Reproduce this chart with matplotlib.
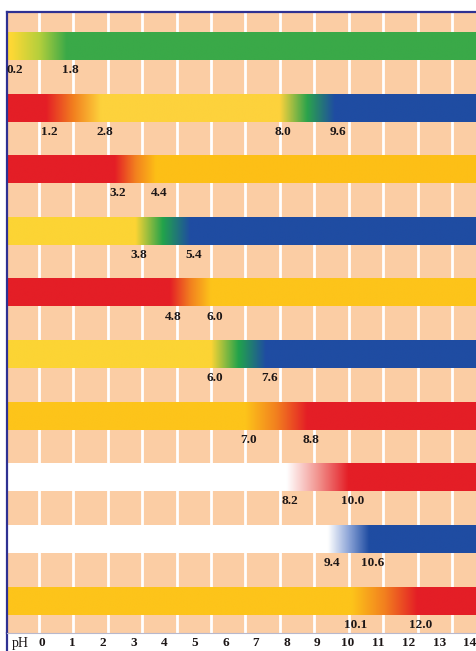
import numpy as np
import matplotlib.pyplot as plt
from matplotlib.colors import to_rgb

# pH transition ranges of each indicator (top to bottom)
ranges = [
    [(0.2, 1.8)],
    [(1.2, 2.8), (8.0, 9.6)],
    [(3.2, 4.4)],
    [(3.8, 5.4)],
    [(4.8, 6.0)],
    [(6.0, 7.6)],
    [(7.0, 8.8)],
    [(8.2, 10.0)],
    [(9.4, 10.6)],
    [(10.1, 12.0)],
]

# colour at start, middle and end of each transition
colours = [
    [('#fdd835', '#b5cf3c', '#3aa948')],
    [('#e41e26', '#f2801f', '#fdd23c'), ('#fdd23c', '#2ba34c', '#1f4ca2')],
    [('#e41e26', '#f2801f', '#fdbf16')],
    [('#fcd434', '#22a34b', '#1f4ca2')],
    [('#e41e26', '#f2801f', '#fdc41a')],
    [('#fcd434', '#22a34b', '#1f4ca2')],
    [('#fdc41a', '#f2801f', '#e41e26')],
    [('#ffffff', '#f29590', '#e41e26')],
    [('#ffffff', '#8ea6d8', '#1f4ca2')],
    [('#fdc41a', '#f2801f', '#e41e26')],
]

ph_ticks = list(range(15))

peach = '#fbcda4'
border = '#2e3192'
ink = '#1c1616'

fig = plt.figure(figsize=(4.76, 6.51), dpi=100)
W, H = 476, 651

# main panel with the bars
ax = fig.add_axes([7 / W, 18 / H, 469 / W, 621 / H])
ax.set_facecolor(peach)
xmin, xmax = 0.07, 13.7
ax.set_xticks([])
ax.set_yticks([])
for s in ['right', 'bottom']:
    ax.spines[s].set_visible(False)
for s in ['left', 'top']:
    ax.spines[s].set_color(border)
    ax.spines[s].set_linewidth(1.6)

# white grid lines at every pH unit
ax.vlines(np.arange(1, 14), 9.52, -0.56, color='white', lw=2.0, zorder=1)

xs = np.linspace(xmin, xmax, 800)
bar_h = 0.44
for i, (rng, cols) in enumerate(zip(ranges, colours)):
    stops_x, stops_c = [], []
    for (lo, hi), (c0, c1, c2) in zip(rng, cols):
        stops_x += [lo, (lo + hi) / 2, hi]
        stops_c += [to_rgb(c0), to_rgb(c1), to_rgb(c2)]
    stops_c = np.array(stops_c)
    img = np.stack([np.interp(xs, stops_x, stops_c[:, k]) for k in range(3)], axis=-1)
    ax.imshow(img[np.newaxis, :, :], extent=[xmin, xmax, i + bar_h / 2, i - bar_h / 2],
              aspect='auto', interpolation='bilinear', zorder=2)
    for lo, hi in rng:
        for v in (lo, hi):
            ax.text(v + 0.1, i + 0.385, f'{v:.1f}', ha='center', va='center',
                    family='Liberation Serif', weight='bold', fontsize=9.5,
                    color=ink, zorder=3, clip_on=True)
ax.set_xlim(xmin, xmax)
ax.set_ylim(9.52, -0.56)

# pH scale strip along the bottom
ax2 = fig.add_axes([7 / W, 0, 469 / W, 18 / H])
ax2.set_xlim(-1.145, 14.2)
ax2.set_ylim(0, 1)
ax2.set_xticks([])
ax2.set_yticks([])
for s in ['right', 'bottom']:
    ax2.spines[s].set_visible(False)
ax2.spines['left'].set_color(border)
ax2.spines['left'].set_linewidth(1.6)
ax2.spines['top'].set_color('#b8b8cc')
ax2.spines['top'].set_linewidth(0.8)
ax2.text(-0.72, 0.42, 'pH', ha='center', va='center', family='Liberation Serif',
         fontsize=10, color=ink)
for t in ph_ticks:
    ax2.text(t, 0.42, str(t), ha='center', va='center', family='Liberation Serif',
             weight='bold', fontsize=9.5, color=ink)

fig.savefig('out.png', dpi=100)
